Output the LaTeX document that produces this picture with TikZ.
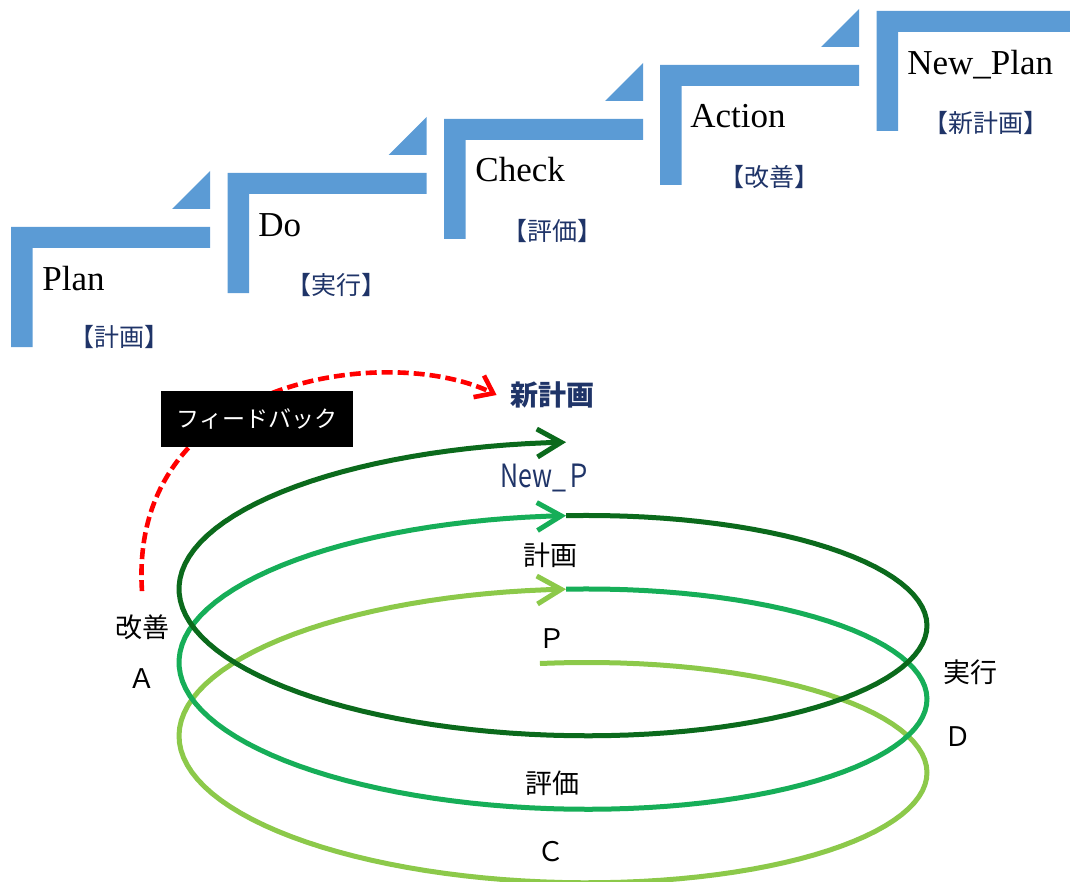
\documentclass[tikz,border=0pt]{standalone}
\usepackage{fontspec}
\setmainfont{Liberation Serif}
\newfontfamily\jp{Noto Sans CJK JP}
\newfontfamily\jpnarrow{Noto Sans CJK JP}[FakeStretch=0.78]
\usepackage{xcolor}
\usepackage{tikz}
\usetikzlibrary{arrows.meta, positioning}

\definecolor{stairblue}{HTML}{5B9BD5}
\definecolor{navy}{HTML}{1F3468}
\definecolor{turnlight}{HTML}{8CC94A}
\definecolor{turnmid}{HTML}{16AE58}
\definecolor{turndark}{HTML}{0B6A1C}

\begin{document}
\begin{tikzpicture}[x=0.5pt, y=-0.5pt,
stair/.style={fill=stairblue},
stepname/.style={anchor=base west, inner sep=0pt, font=\fontsize{17.5}{20}\selectfont},
stepjp/.style={inner sep=0pt, text=navy, font=\jp\fontsize{12.5}{14}\selectfont},
ringlabel/.style={inner sep=0pt, font=\jp\fontsize{13.5}{16}\selectfont},
turn/.style={line width=2.5pt, -{Straight Barb[length=12pt, width=14pt]}},
feedback/.style={red, line width=2.3pt, dash pattern=on 5.5pt off 2.5pt, -{Straight Barb[length=8pt, width=12pt]}},
fbbox/.style={fill=black, text=white, minimum width=96pt, minimum height=28pt, font=\jp\fontsize{11.5}{12}\selectfont}
]
	\useasboundingbox (0,0) rectangle (1070,882);
	% stairs
	\fill[stair] (11,347) |- (210,227) |- (32.5,248) |- cycle;
	\fill[stair] (172,209) -| (210,171) -- cycle;
	\fill[stair] (227.5,293) |- (426.5,173) |- (249,194) |- cycle;
	\fill[stair] (388.5,155) -| (426.5,117) -- cycle;
	\fill[stair] (444,239) |- (643,119) |- (465.5,140) |- cycle;
	\fill[stair] (605,101) -| (643,63) -- cycle;
	\fill[stair] (660,185) |- (859,65) |- (681.5,86) |- cycle;
	\fill[stair] (821,47) -| (859,9) -- cycle;
	\fill[stair] (876.5,131) |- (1070,11) |- (898,32) |- cycle;
	\node[stepname] (plan) at (42,290) {Plan};
	\node[stepjp] (planjp) at (119.5,337) {【計画】};
	\node[stepname] (do) at (258,236) {Do};
	\node[stepjp] (dojp) at (336,285) {【実行】};
	\node[stepname] (check) at (475,182) {Check};
	\node[stepjp] (checkjp) at (552,231) {【評価】};
	\node[stepname] (action) at (690,128) {Action};
	\node[stepjp] (actionjp) at (769,177) {【改善】};
	\node[stepname] (newplan) at (907,75) {New\_Plan};
	\node[stepjp] (newplanjp) at (985.5,123) {【新計画】};
	% spiral
	\draw[turn, turnlight] plot[domain=-2:362, samples=120, variable=\t] ({553+374*sin(\t)}, {791-0.20417*\t-128*cos(\t)});
	\draw[turn, turnmid] plot[domain=362:722, samples=120, variable=\t] ({553+374*sin(\t)}, {791-0.20417*\t-128*cos(\t)});
	\draw[turn, turndark] plot[domain=722:1082, samples=120, variable=\t] ({553+374*sin(\t)}, {791-0.20417*\t-128*cos(\t)});
	\node[ringlabel, text=navy, font=\jp\bfseries\fontsize{14}{16}\selectfont] (newkeikaku) at (552,395) {新計画};
	\node[ringlabel, text=navy, font=\jpnarrow\fontsize{16}{18}\selectfont] (newp) at (546,478) {New\_Ｐ};
	\node[ringlabel] (keikaku) at (550,555) {計画};
	\node[ringlabel] (plabel) at (552,639) {Ｐ};
	\node[ringlabel] (kaizen) at (142,627) {改善};
	\node[ringlabel, anchor=north, shift={(0pt,-14pt)}] (alabel) at (kaizen.south) {Ａ};
	\node[ringlabel] (hyoka) at (552,783) {評価};
	\node[ringlabel] (clabel) at (551,852) {Ｃ};
	\node[ringlabel] (jikko) at (970,672) {実行};
	\node[ringlabel] (dlabel) at (958,737) {Ｄ};
	% feedback
	\draw[feedback] ([yshift=11.5pt]kaizen.north) .. controls +(-14,-215) and +(-107,-52) .. ([xshift=-6.5pt]newkeikaku.west);
	\node[fbbox] (fb) at (257,419) {フィードバック};
\end{tikzpicture}
\end{document}
